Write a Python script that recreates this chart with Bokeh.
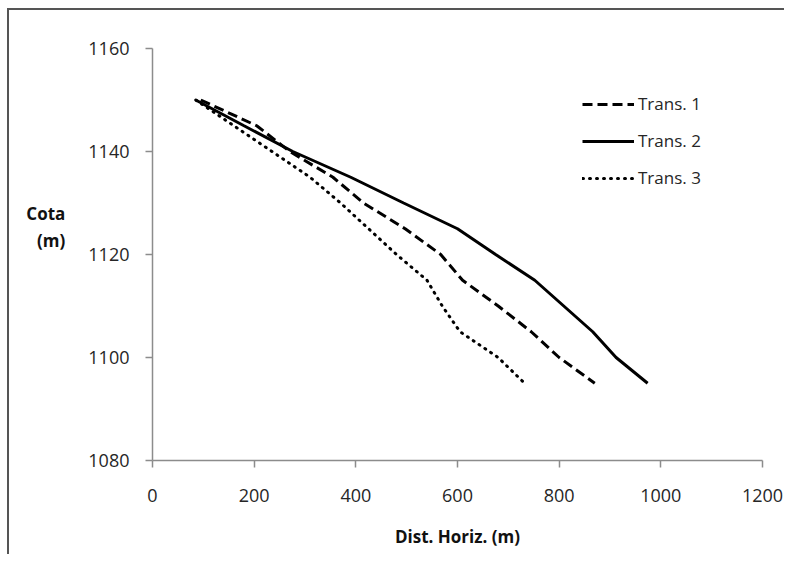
from bokeh.plotting import figure
from bokeh.models import Range1d, FixedTicker, Legend, LegendItem
from bokeh.embed import file_html
from bokeh.resources import INLINE

# Data
elev = [1150, 1145, 1140, 1135, 1130, 1125, 1120, 1115, 1110, 1105, 1100, 1095]
trans1_x = [95, 205, 270, 355, 415, 497, 567, 610, 680, 745, 800, 870]
trans2_x = [85, 180, 276, 390, 494, 600, 675, 752, 809, 866, 912, 974]
trans3_x = [85, 160, 235, 310, 370, 425, 480, 540, 570, 605, 680, 732]
series_names = ["Trans. 1", "Trans. 2", "Trans. 3"]
x_ticks = [0, 200, 400, 600, 800, 1000, 1200]
y_ticks = [1080, 1100, 1120, 1140, 1160]

FONT = "Open Sans"

p = figure(width=777, height=546, output_backend="svg", toolbar_location=None,
           x_range=Range1d(0, 1200), y_range=Range1d(1080, 1160),
           min_border_left=143, min_border_right=24, min_border_top=38,
           min_border_bottom=96)
p.styles = {"border-left": "2px solid #555555", "border-top": "2px solid #555555",
            "margin-left": "7px", "margin-top": "8px"}
p.outline_line_color = None
p.xgrid.grid_line_color = None
p.ygrid.grid_line_color = None

for ax in (p.xaxis[0], p.yaxis[0]):
    ax.axis_line_color = "#8c8c8c"
    ax.axis_line_width = 1.5
    ax.major_tick_line_color = "#8c8c8c"
    ax.major_tick_line_width = 1.5
    ax.major_tick_in = 0
    ax.major_tick_out = 7
    ax.minor_tick_line_color = None
    ax.major_label_text_font = FONT
    ax.major_label_text_font_size = "18px"
    ax.major_label_text_color = "#262626"
    ax.axis_label_text_font = FONT
    ax.axis_label_text_font_size = "17px"
    ax.axis_label_text_font_style = "bold"
    ax.axis_label_text_color = "#111111"

p.xaxis[0].ticker = FixedTicker(ticks=x_ticks)
p.yaxis[0].ticker = FixedTicker(ticks=y_ticks)
p.xaxis[0].major_label_standoff = 21
p.yaxis[0].major_label_standoff = 16

p.xaxis[0].axis_label = "Dist. Horiz. (m)"
p.xaxis[0].axis_label_standoff = 20

# two trailing empty lines lift the two visible lines above the frame centre
p.yaxis[0].axis_label = "Cota\n(m)\n\n"
p.yaxis[0].axis_label_standoff = 20
try:
    p.yaxis[0].axis_label_orientation = "horizontal"
except Exception:
    pass

r1 = p.line(trans1_x, elev, line_color="black", line_width=3, line_dash="10 5")
r2 = p.line(trans2_x, elev, line_color="black", line_width=3)
r3 = p.line(trans3_x, elev, line_color="black", line_width=3, line_dash="1 6",
            line_cap="round")

legend = Legend(items=[LegendItem(label=series_names[0], renderers=[r1]),
                       LegendItem(label=series_names[1], renderers=[r2]),
                       LegendItem(label=series_names[2], renderers=[r3])],
                location=(430, 271), orientation="vertical",
                glyph_width=52, glyph_height=20, label_height=20,
                spacing=14, padding=0, margin=0, label_standoff=4,
                border_line_color=None, background_fill_alpha=0,
                label_text_font=FONT, label_text_font_size="17px",
                label_text_color="#262626")
p.add_layout(legend)

open("out.html", "w").write(file_html(p, INLINE))
